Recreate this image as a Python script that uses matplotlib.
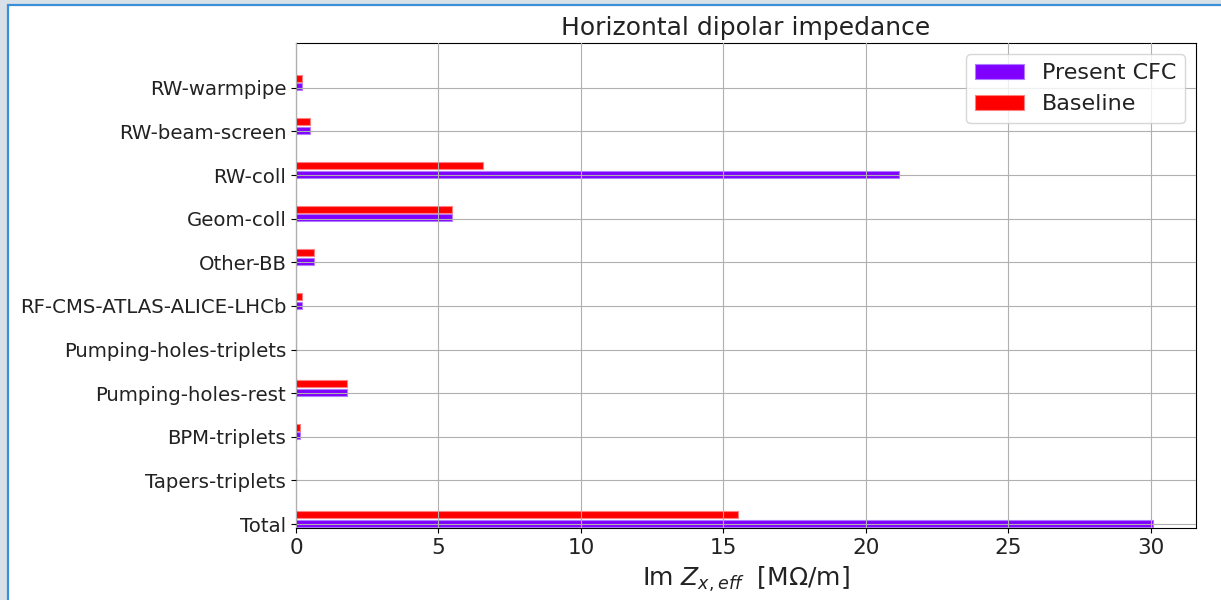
import matplotlib
matplotlib.use("Agg")
import matplotlib.pyplot as plt
import matplotlib.patches as mpatches
import numpy as np

categories = ["Total", "Tapers-triplets", "BPM-triplets", "Pumping-holes-rest",
              "Pumping-holes-triplets", "RF-CMS-ATLAS-ALICE-LHCb", "Other-BB",
              "Geom-coll", "RW-coll", "RW-beam-screen", "RW-warmpipe"]
present_cfc = [30.08, 0.0, 0.15, 1.78, 0.0, 0.2, 0.63, 5.48, 21.15, 0.5, 0.2]
baseline = [15.51, 0.0, 0.15, 1.78, 0.0, 0.2, 0.63, 5.48, 6.55, 0.5, 0.2]

W, H = 1221, 600
fig = plt.figure(figsize=(W / 100, H / 100), dpi=100)
fig.patch.set_facecolor("#d8e0e8")
# page frame
fig.patches.append(mpatches.Rectangle((8 / W, -0.05), 1.1, (H - 5) / H + 0.05,
                                      transform=fig.transFigure, facecolor="white",
                                      edgecolor="#3b8fd8", linewidth=1.6, zorder=-10))

ax = fig.add_axes([296 / W, (H - 528) / H, (1196 - 296) / W, (528 - 43.3) / H])
ax.set_zorder(5)
y = np.arange(len(categories))
ax.barh(y + 0.02, present_cfc, height=0.16, color="#7f00ff", edgecolor="#b27cff",
        linewidth=0.8, label="Present CFC")
ax.barh(y + 0.22, baseline, height=0.16, color="#ff0000", edgecolor="#ff8080",
        linewidth=0.8, label="Baseline")
ax.set_yticks(y)
ax.set_yticklabels(categories, fontsize=14.2, color="#222222")
ax.tick_params(axis="x", labelsize=15.5, labelcolor="#222222")
ax.set_ylim(-0.09, 11.02)
ax.set_xlim(0, 31.58)
ax.set_xticks([0, 5, 10, 15, 20, 25, 30])
ax.grid(True, color="#b0b0b0", linewidth=0.8)
ax.set_axisbelow(False)
ax.set_title("Horizontal dipolar impedance", fontsize=18, pad=6, color="#222222")
ax.set_xlabel(r"Im $Z_{x,eff}$  [M$\Omega$/m]", fontsize=18, labelpad=5, color="#222222")
leg = ax.legend(loc="upper right", fontsize=16, handlelength=2.2, framealpha=0.8,
                borderaxespad=0.5)
for t in leg.get_texts():
    t.set_color("#222222")

fig.savefig("out.png", dpi=100, facecolor=fig.get_facecolor())
